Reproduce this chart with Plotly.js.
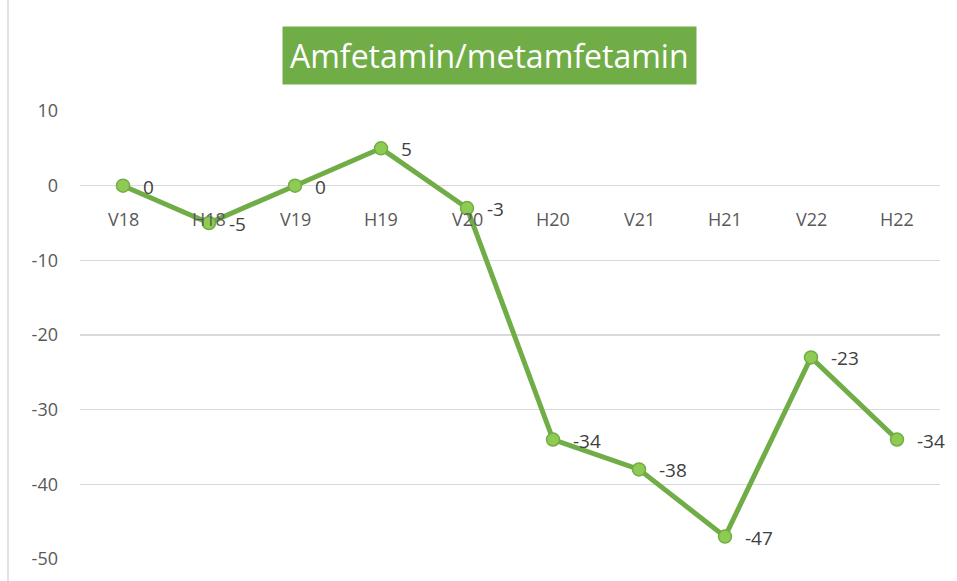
<!DOCTYPE html>
<html>
<head>
<meta charset="utf-8">
<script src="https://cdn.plot.ly/plotly-3.0.1.min.js"></script>
<style>html,body{margin:0;padding:0;background:#fff;}#chart{width:957px;height:581px;}</style>
</head>
<body>
<div id="chart"></div>
<script>
const categories = ["V18","H18","V19","H19","V20","H20","V21","H21","V22","H22"];
const values = [0,-5,0,5,-3,-34,-38,-47,-23,-34];
const yTicks = [10,0,-10,-20,-30,-40,-50];
const chartTitle = "Amfetamin/metamfetamin";

const font = "'Open Sans', 'Noto Sans', sans-serif";

const trace = {
  x: categories,
  y: values,
  type: 'scatter',
  mode: 'lines+markers',
  line: {color: '#70AD47', width: 5},
  marker: {size: 13, color: '#8FCB52', line: {color: '#70AD47', width: 1.5}},
  cliponaxis: false,
  hoverinfo: 'none'
};

const catAnnotations = categories.map(c => ({
  x: c, y: 0, xref: 'x', yref: 'y',
  text: c, showarrow: false,
  yanchor: 'top', yshift: -19,
  font: {family: font, size: 18, color: '#595959'}
}));

const valueAnnotations = categories.map((c, i) => ({
  x: c, y: values[i], xref: 'x', yref: 'y',
  text: String(values[i]), showarrow: false,
  xanchor: 'left', yanchor: 'middle', xshift: 18, yshift: -1,
  font: {family: font, size: 19, color: '#404040'}
}));

const layout = {
  width: 957, height: 581,
  margin: {l: 80, r: 17, t: 111, b: 22},
  paper_bgcolor: '#ffffff',
  plot_bgcolor: '#ffffff',
  showlegend: false,
  xaxis: {
    type: 'category',
    range: [-0.5, 9.5],
    showgrid: false, zeroline: false, showline: false,
    showticklabels: false, ticks: ''
  },
  yaxis: {
    range: [-50, 10],
    tickvals: yTicks,
    ticktext: yTicks.map(String),
    showgrid: true, gridcolor: '#D9D9D9', gridwidth: 1.5,
    zeroline: false, showline: false, ticks: '',
    ticklabelstandoff: 21,
    tickfont: {family: font, size: 18, color: '#595959'}
  },
  shapes: [{
    type: 'line', xref: 'paper', yref: 'paper',
    x0: -72/860, x1: -72/860, y0: -0.06, y1: 1.3,
    line: {color: '#D9D9D9', width: 1.5}
  }],
  annotations: catAnnotations.concat(valueAnnotations, [{
    text: chartTitle, xref: 'paper', yref: 'paper',
    x: (489-80)/860, y: 1 + (111-56)/448,
    xanchor: 'center', yanchor: 'middle', showarrow: false,
    bgcolor: '#70AD47', borderpad: 7,
    font: {family: font, size: 32, color: '#ffffff'}
  }])
};

Plotly.newPlot('chart', [trace], layout, {displayModeBar: false, staticPlot: true});
</script>
</body>
</html>
